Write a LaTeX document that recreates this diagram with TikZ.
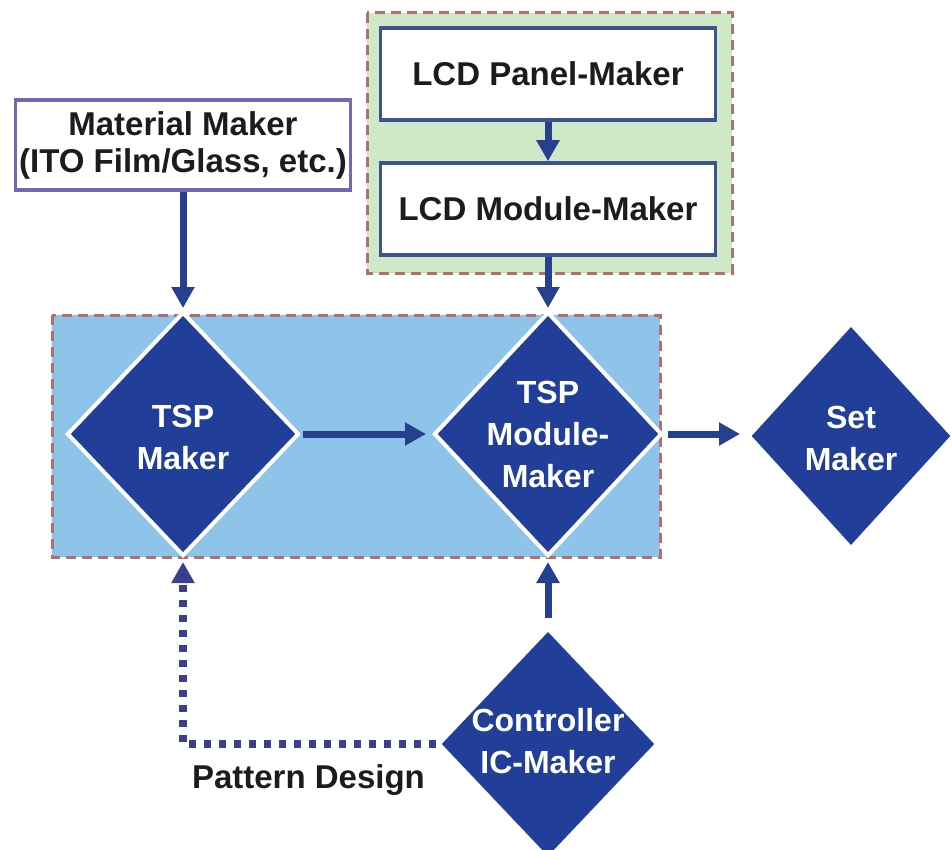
\documentclass[tikz,border=0pt]{standalone}
\usepackage{fontspec}
\setmainfont{Liberation Sans}
\usetikzlibrary{shapes.geometric,arrows.meta}
\definecolor{navy}{HTML}{213F99}
\definecolor{arrowblue}{HTML}{25408F}
\definecolor{dotblue}{HTML}{3B3F8C}
\definecolor{skyfill}{HTML}{8EC4EA}
\definecolor{mintfill}{HTML}{CFE8C6}
\definecolor{rustdash}{HTML}{B07070}
\definecolor{boxedge}{HTML}{3F5290}
\definecolor{matedge}{HTML}{6E6AB6}
\definecolor{ink}{HTML}{1C1C1C}
\tikzset{
  groupbox/.style={draw=rustdash, line width=3pt, dash pattern=on 10pt off 6pt},
  makerbox/.style={draw=boxedge, fill=white, line width=3.5pt, rectangle,
    minimum width=335pt, minimum height=92pt, inner sep=0pt,
    text=ink, font=\fontsize{33}{37}\selectfont\bfseries, align=center},
  maker/.style={diamond, fill=navy, draw=white, line width=4pt, inner sep=0pt},
  makertext/.style={text=white, font=\fontsize{32}{42}\selectfont\bfseries, align=center, inner sep=0pt},
  flow/.style={draw=arrowblue, line width=7pt, -{Triangle[length=21pt,width=22pt]}},
  dotflow/.style={draw=dotblue, line width=7.5pt, dash pattern=on 7.5pt off 7.5pt,
    -{Triangle[length=21pt,width=22pt,fill=arrowblue]}},
}
\begin{document}
\begin{tikzpicture}[x=1pt,y=-1pt]
\useasboundingbox (0,0) rectangle (952,850);

% LCD group
\fill[mintfill] (367,13) rectangle (732,273);
\draw[groupbox] (367,13) rectangle (732,273);
\node[makerbox] (panel) at (548,74) {LCD Panel-Maker};
\node[makerbox] (lcdmod) at (548,209) {LCD Module-Maker};

% material supplier
\node[makerbox, draw=matedge, minimum height=90pt] (material) at (183,145)
  {Material Maker\\(ITO Film/Glass, etc.)};

% TSP group
\fill[skyfill] (52,315) rectangle (660,557);
\draw[groupbox] (52,315) rectangle (660,557);

\node[maker, minimum width=232pt, minimum height=244pt] (tsp) at (183,434) {};
\node[makertext] (tspT) at (183,437) {TSP\\Maker};
\node[maker, minimum width=228pt, minimum height=244pt] (tspm) at (548,434) {};
\node[makertext] (tspmT) at (548,434) {TSP\\Module-\\Maker};
\node[maker, minimum width=206pt, minimum height=226pt] (set) at (851,436) {};
\node[makertext] (setT) at (851,438) {Set\\Maker};
\node[maker, minimum width=220pt, minimum height=232pt] (ctrl) at (548,744) {};
\node[makertext] (ctrlT) at (548,741) {Controller\\IC-Maker};

% flows
\draw[flow] (panel.south) -- (lcdmod.north);
\draw[flow, shorten >=2pt] (lcdmod.south) -- (tspm.north);
\draw[flow, shorten >=2pt] (material.south) -- (tsp.north);
\draw[flow, shorten <=2pt, shorten >=6pt] (tsp.east) -- (tspm.west);
\draw[flow, shorten <=4pt, shorten >=6pt] (tspm.east) -- (tspm.east -| set.west);
\draw[flow, shorten <=8pt, shorten >=4pt] (ctrl.north) -- (tspm.south);
\draw[dotflow, shorten >=4pt] (ctrl.west) -| (tsp.south);

\node[text=ink, font=\fontsize{33}{37}\selectfont\bfseries, anchor=base] (pattern) at (308.5,788) {Pattern Design};
\end{tikzpicture}
\end{document}
